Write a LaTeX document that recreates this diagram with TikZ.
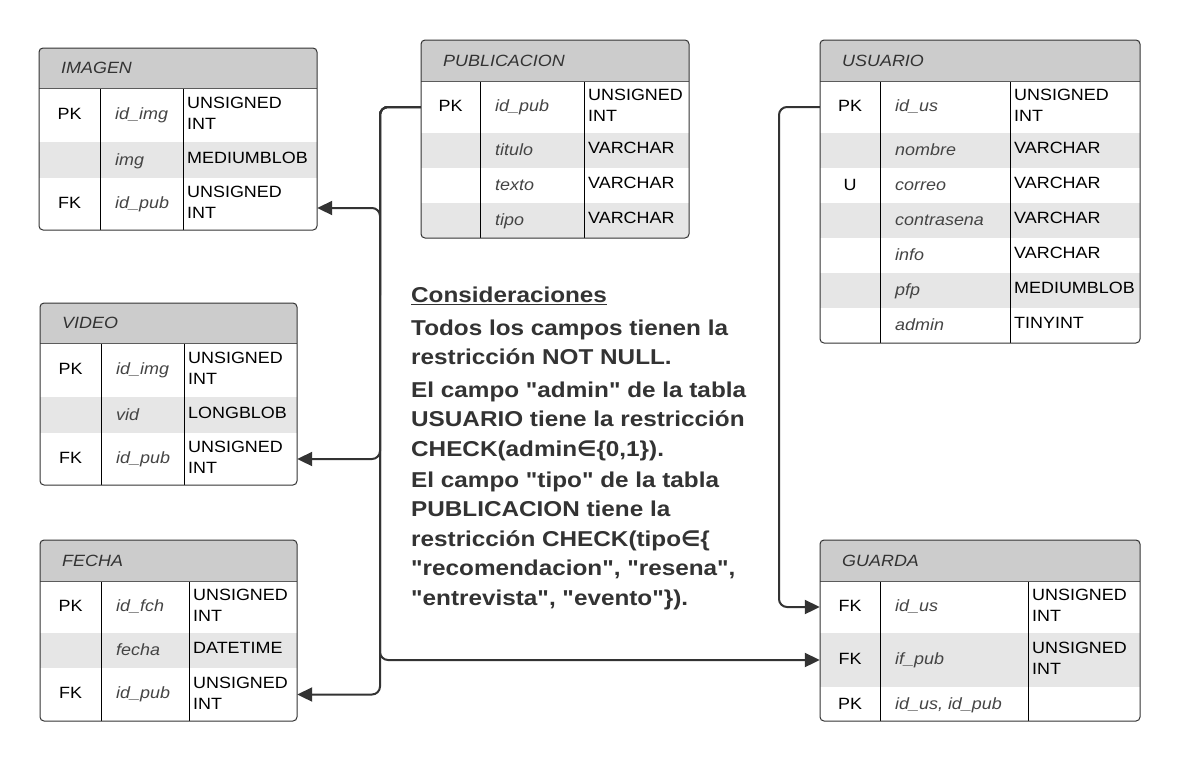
\documentclass[tikz,border=0pt]{standalone}
\usepackage{fontspec}
\setmainfont[FakeStretch=1.1]{Liberation Sans}
\newfontfamily\notesfont[FakeStretch=1.13]{Liberation Sans}
\newfontfamily\symfont{DejaVu Sans}
\usetikzlibrary{arrows.meta,fit}
\definecolor{ink}{HTML}{333333}
\definecolor{hdrgray}{HTML}{CCCCCC}
\definecolor{altgray}{HTML}{E6E6E6}
\definecolor{fieldgray}{HTML}{444444}
\tikzset{
  tabletext/.style={inner sep=0pt, font=\fontsize{16.3}{21}\selectfont},
  titletext/.style={tabletext, text=ink, font=\fontsize{16.3}{21}\selectfont\itshape},
  keytext/.style={tabletext, text=black},
  fieldtext/.style={tabletext, text=fieldgray, font=\fontsize{16.3}{21}\selectfont\itshape},
  typetext/.style={tabletext, text=black},
  outline/.style={draw=ink, line width=1pt},
  colline/.style={draw=black, line width=0.9pt},
  hdrline/.style={draw=ink!80, line width=0.8pt},
  conn/.style={draw=ink, line width=2pt, rounded corners=8pt, -{Triangle[length=15pt,width=14pt]}},
}
\newcommand\setcols[4]{\def\xa{#1}\def\xb{#2}\def\xc{#3}\def\xd{#4}}
\newcommand\settab[3]{\def\yt{#1}\def\yh{#2}\def\yb{#3}}
\newcommand\ertable[2]{%
  \fill[white, rounded corners=4pt] (\xa,\yt) rectangle (\xd,\yb);
  \begin{scope}
    \clip[rounded corners=4pt] (\xa,\yt) rectangle (\xd,\yb);
    \fill[hdrgray] (\xa,\yt) rectangle (\xd,\yh);
  \end{scope}
  \node[fit={(\xa,\yt) (\xd,\yb)}, inner sep=0pt] (#1) {};
  \node[titletext, anchor=west] (#1-title) at ({\xa+22},{(\yt+\yh)/2}) {#2};
}
\newcommand\erfinish{%
  \draw[colline] (\xb,\yh) -- (\xb,\yb) (\xc,\yh) -- (\xc,\yb);
  \draw[hdrline] (\xa,\yh) -- (\xd,\yh);
  \draw[outline, rounded corners=4pt] (\xa,\yt) rectangle (\xd,\yb);
}
\newcommand\rowfill[4]{%
  \begin{scope}
    \clip[rounded corners=4pt] (\xa,\yt) rectangle (\xd,\yb);
    \fill[#4] (\xa,#2) rectangle (\xd,#3);
  \end{scope}
  \node[fit={(\xa,#2) (\xd,#3)}, inner sep=0pt] (#1) {};
}
% single-line type
\newcommand\erow[7]{%
  \rowfill{#1}{#2}{#3}{#4}
  \node[keytext, anchor=base] (#1-k) at ({(\xa+\xb)/2},{(#2+#3)/2+5}) {#5};
  \node[fieldtext, anchor=base west] (#1-f) at ({\xb+15},{(#2+#3)/2+5}) {#6};
  \node[typetext, anchor=base west] (#1-t) at ({\xc+4},{(#2+#3)/2+3}) {#7};
}
% two-line UNSIGNED INT type
\newcommand\erowu[6]{%
  \rowfill{#1}{#2}{#3}{#4}
  \node[keytext, anchor=base] (#1-k) at ({(\xa+\xb)/2},{(#2+#3)/2+4}) {#5};
  \node[fieldtext, anchor=base west] (#1-f) at ({\xb+15},{(#2+#3)/2+4}) {#6};
  \node[typetext, anchor=base west] (#1-t) at ({\xc+4},{(#2+#3)/2-6.5}) {\parbox[t]{120pt}{\fontsize{16.3}{21}\selectfont UNSIGNED\\INT}};
}
\begin{document}
\begin{tikzpicture}[x=1pt,y=-1pt]
\fill[white] (0,0) rectangle (1180,761);
\useasboundingbox (0,0) rectangle (1180,761);

% IMAGEN
\setcols{39}{100}{183}{317}\settab{48}{88}{230}
\ertable{img}{IMAGEN}
\erowu{img-r1}{88}{142}{white}{PK}{id\_img}
\erow{img-r2}{142}{178}{altgray}{}{img}{MEDIUMBLOB}
\erowu{img-r3}{178}{230}{white}{FK}{id\_pub}
\erfinish

% PUBLICACION
\setcols{421}{480}{584}{689}\settab{40}{81}{238}
\ertable{pub}{PUBLICACION}
\erowu{pub-r1}{81}{133}{white}{PK}{id\_pub}
\erow{pub-r2}{133}{168}{altgray}{}{titulo}{VARCHAR}
\erow{pub-r3}{168}{203}{white}{}{texto}{VARCHAR}
\erow{pub-r4}{203}{238}{altgray}{}{tipo}{VARCHAR}
\erfinish

% USUARIO
\setcols{820}{880}{1010}{1140}\settab{40}{81}{343}
\ertable{usu}{USUARIO}
\erowu{usu-r1}{81}{133}{white}{PK}{id\_us}
\erow{usu-r2}{133}{168}{altgray}{}{nombre}{VARCHAR}
\erow{usu-r3}{168}{203}{white}{U}{correo}{VARCHAR}
\erow{usu-r4}{203}{238}{altgray}{}{contrasena}{VARCHAR}
\erow{usu-r5}{238}{273}{white}{}{info}{VARCHAR}
\erow{usu-r6}{273}{308}{altgray}{}{pfp}{MEDIUMBLOB}
\erow{usu-r7}{308}{343}{white}{}{admin}{TINYINT}
\erfinish

% VIDEO
\setcols{40}{101}{184}{297}\settab{303}{343}{485}
\ertable{vid}{VIDEO}
\erowu{vid-r1}{343}{397}{white}{PK}{id\_img}
\erow{vid-r2}{397}{433}{altgray}{}{vid}{LONGBLOB}
\erowu{vid-r3}{433}{485}{white}{FK}{id\_pub}
\erfinish

% FECHA
\setcols{40}{101}{189}{297}\settab{540}{581}{721}
\ertable{fch}{FECHA}
\erowu{fch-r1}{581}{633}{white}{PK}{id\_fch}
\erow{fch-r2}{633}{668}{altgray}{}{fecha}{DATETIME}
\erowu{fch-r3}{668}{721}{white}{FK}{id\_pub}
\erfinish

% GUARDA
\setcols{820}{880}{1028}{1140}\settab{540}{581}{721}
\ertable{gua}{GUARDA}
\erowu{gua-r1}{581}{633}{white}{FK}{id\_us}
\erowu{gua-r2}{633}{687}{altgray}{FK}{if\_pub}
\erow{gua-r3}{687}{721}{white}{PK}{id\_us, id\_pub}{}
\erfinish

% connectors
\coordinate (bus) at (380,300);
\coordinate (bus2) at (779,300);
\draw[conn] (pub-r1.west) -| (bus) |- ([yshift=-4pt]img-r3.east);
\draw[conn] (pub-r1.west) -| (bus) |- (vid-r3.east);
\draw[conn] (pub-r1.west) -| (bus) |- (fch-r3.east);
\draw[conn] (pub-r1.west) -| (bus) |- (gua-r2.west);
\draw[conn] (usu-r1.west) -| (bus2) |- (gua-r1.west);

% notes
\node[inner sep=0pt, anchor=base west, text=ink] (notes) at (411,302.7) {\parbox[t]{400pt}{\notesfont\bfseries\fontsize{21.5}{29.5}\selectfont\raggedright
\underline{Consideraciones}\\[2.8pt]
Todos los campos tienen la\\
restricción NOT NULL.\\[3pt]
El campo "admin" de la tabla\\
USUARIO tiene la restricción\\
CHECK(admin{\symfont\bfseries ∈}\{0,1\}).\\[1.5pt]
El campo "tipo" de la tabla\\
PUBLICACION tiene la\\
restricción CHECK(tipo{\symfont\bfseries ∈}\{\\
"recomendacion", "resena",\\
"entrevista", "evento"\}).}};
\end{tikzpicture}
\end{document}
